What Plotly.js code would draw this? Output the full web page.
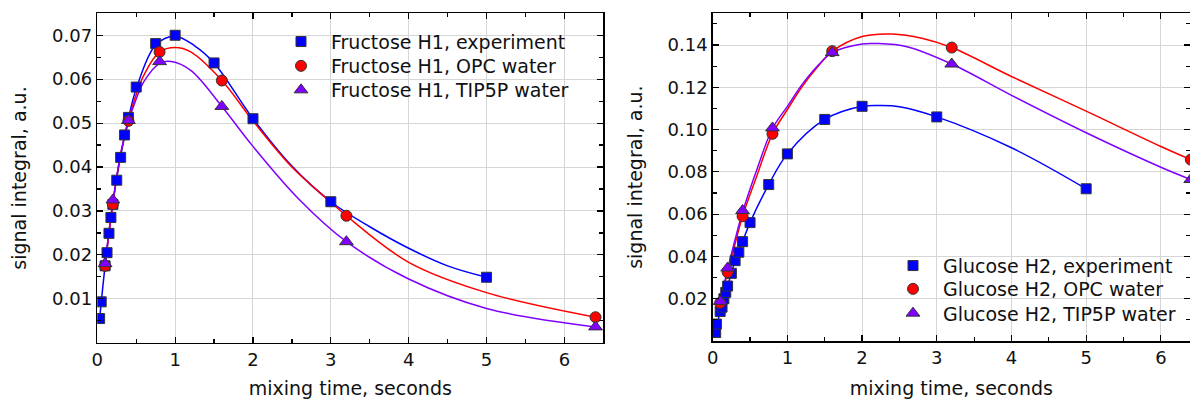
<!DOCTYPE html>
<html>
<head>
<meta charset="utf-8">
<script src="https://cdn.plot.ly/plotly-3.0.1.min.js"></script>
<style>html,body{margin:0;padding:0;background:#fff;} #plot{width:1190px;height:399px;}</style>
</head>
<body>
<div id="plot"></div>
<script>
// ---------- data: Fructose H1 (left panel) ----------
const fruExpX = [0.03, 0.05, 0.1, 0.125, 0.15, 0.175, 0.2, 0.25, 0.3, 0.35, 0.4, 0.5, 0.75, 1.0, 1.5, 2.0, 3.0, 5.0];
const fruExpY = [0.0055, 0.0093, 0.0175, 0.0205, 0.0249, 0.0285, 0.0315, 0.037, 0.0422, 0.0473, 0.0513, 0.0582, 0.0681, 0.0700, 0.0637, 0.0510, 0.0321, 0.0149];
const simX = [0.1, 0.2, 0.4, 0.8, 1.6, 3.2, 6.4];
const fruOpcY = [0.0175, 0.0315, 0.0505, 0.0662, 0.0597, 0.0289, 0.0058];
const fruTipY = [0.018, 0.0325, 0.0506, 0.064, 0.0538, 0.023, 0.0036];

// fitted / simulated curves
const fruExpCurveX = [0.03, 0.1, 0.2, 0.3, 0.4, 0.5, 0.75, 1.0, 1.25, 1.5, 2.0, 2.5, 3.0, 3.5, 4.0, 4.5, 5.0];
const fruExpCurveY = [0.0055, 0.0175, 0.032, 0.0425, 0.051, 0.0578, 0.0678, 0.0698, 0.0676, 0.0637, 0.051, 0.0402, 0.0321, 0.0264, 0.0215, 0.0175, 0.0149];
const fruOpcCurveX = [0.1, 0.2, 0.3, 0.4, 0.5, 0.6, 0.8, 1.0, 1.2, 1.6, 2.0, 2.5, 3.0, 3.2, 4.0, 5.0, 6.4];
const fruOpcCurveY = [0.0175, 0.0315, 0.043, 0.0505, 0.0565, 0.061, 0.0662, 0.0672, 0.0662, 0.0597, 0.0505, 0.040, 0.032, 0.0289, 0.0183, 0.0114, 0.0058];
const fruTipCurveX = [0.1, 0.2, 0.3, 0.4, 0.5, 0.6, 0.8, 0.95, 1.2, 1.6, 2.0, 2.6, 3.2, 4.0, 5.0, 6.4];
const fruTipCurveY = [0.018, 0.032, 0.043, 0.0503, 0.0555, 0.0595, 0.0636, 0.064, 0.062, 0.0538, 0.0447, 0.0325, 0.023, 0.0145, 0.0078, 0.0036];

// ---------- data: Glucose H2 (right panel) ----------
const glcExpX = [0.04, 0.05, 0.1, 0.125, 0.15, 0.175, 0.2, 0.25, 0.3, 0.35, 0.4, 0.5, 0.75, 1.0, 1.5, 2.0, 3.0, 5.0];
const glcExpY = [0.004, 0.008, 0.014, 0.016, 0.020, 0.023, 0.026, 0.032, 0.038, 0.042, 0.047, 0.056, 0.074, 0.0885, 0.1048, 0.111, 0.106, 0.072];
const glcOpcY = [0.018, 0.0325, 0.059, 0.098, 0.1371, 0.1388, 0.0858];
const glcTipY = [0.0187, 0.0345, 0.0617, 0.1008, 0.1364, 0.1310, 0.0764];

const glcExpCurveX = [0.04, 0.1, 0.2, 0.3, 0.4, 0.5, 0.75, 1.0, 1.5, 2.0, 2.25, 2.5, 3.0, 4.0, 5.0];
const glcExpCurveY = [0.004, 0.014, 0.026, 0.038, 0.047, 0.056, 0.074, 0.0885, 0.1048, 0.111, 0.1114, 0.1108, 0.106, 0.0914, 0.072];
const glcOpcCurveX = [0.1, 0.2, 0.3, 0.4, 0.6, 0.8, 1.0, 1.2, 1.4, 1.6, 2.0, 2.4, 2.8, 3.2, 4.0, 5.0, 6.0, 6.4];
const glcOpcCurveY = [0.018, 0.0325, 0.046, 0.059, 0.079, 0.098, 0.1095, 0.1205, 0.1295, 0.137, 0.144, 0.1452, 0.1432, 0.1388, 0.1251, 0.1087, 0.092, 0.0858];
const glcTipCurveX = [0.1, 0.2, 0.3, 0.4, 0.6, 0.8, 1.0, 1.2, 1.4, 1.6, 2.0, 2.2, 2.6, 3.2, 4.0, 5.0, 6.0, 6.4];
const glcTipCurveY = [0.0187, 0.034, 0.048, 0.061, 0.082, 0.1005, 0.111, 0.1215, 0.130, 0.1364, 0.1405, 0.1407, 0.1392, 0.131, 0.1162, 0.0985, 0.0822, 0.0764];

// ---------- labels ----------
const fruNames = ["Fructose H1, experiment", "Fructose H1, OPC water", "Fructose H1, TIP5P water"];
const glcNames = ["Glucose H2, experiment", "Glucose H2, OPC water", "Glucose H2, TIP5P water"];
const xTitle = "mixing time, seconds";
const yTitle = "signal integral, a.u.";
const xTickVals = [0, 1, 2, 3, 4, 5, 6];
const xTickText = ["0", "1", "2", "3", "4", "5", "6"];
const yLeftTickVals = [0.01, 0.02, 0.03, 0.04, 0.05, 0.06, 0.07];
const yLeftTickText = ["0.01", "0.02", "0.03", "0.04", "0.05", "0.06", "0.07"];
const yRightTickVals = [0.02, 0.04, 0.06, 0.08, 0.10, 0.12, 0.14];
const yRightTickText = ["0.02", "0.04", "0.06", "0.08", "0.10", "0.12", "0.14"];

// ---------- styles ----------
const BLUE = "#0000ff", RED = "#ff0000", PURPLE = "#8000ff";
const FONT = "DejaVu Sans, Arial, sans-serif";
const mLine = {color: "#333", width: 1};

function curve(x, y, color, xa, ya) {
  return {x, y, xaxis: xa, yaxis: ya, type: "scatter", mode: "lines",
    line: {color, width: 1.5, shape: "spline", smoothing: 1}, showlegend: false, hoverinfo: "skip"};
}
function pts(x, y, color, symbol, size, name, xa, ya, legend) {
  return {x, y, xaxis: xa, yaxis: ya, type: "scatter", mode: "markers", name,
    legend: legend,
    marker: {color, symbol, size, line: mLine}};
}

const data = [
  curve(fruExpCurveX, fruExpCurveY, BLUE, "x", "y"),
  curve(fruOpcCurveX, fruOpcCurveY, RED, "x", "y"),
  curve(fruTipCurveX, fruTipCurveY, PURPLE, "x", "y"),
  pts(fruExpX, fruExpY, BLUE, "square", 10, fruNames[0], "x", "y", "legend"),
  pts(simX, fruOpcY, RED, "circle", 11, fruNames[1], "x", "y", "legend2"),
  pts(simX, fruTipY, PURPLE, "triangle-up", 12, fruNames[2], "x", "y", "legend3"),
  curve(glcExpCurveX, glcExpCurveY, BLUE, "x2", "y2"),
  curve(glcOpcCurveX, glcOpcCurveY, RED, "x2", "y2"),
  curve(glcTipCurveX, glcTipCurveY, PURPLE, "x2", "y2"),
  pts(glcExpX, glcExpY, BLUE, "square", 10, glcNames[0], "x2", "y2", "legend4"),
  pts(simX, glcOpcY, RED, "circle", 11, glcNames[1], "x2", "y2", "legend5"),
  pts(simX, glcTipY, PURPLE, "triangle-up", 12, glcNames[2], "x2", "y2", "legend6")
];

const W = 1190, H = 399;
function axBase() {
  return {
    showline: true, linecolor: "#000", linewidth: 1.5, mirror: "allticks",
    ticks: "inside", ticklen: 6, tickwidth: 1.2, tickcolor: "#000",
    showgrid: true, gridcolor: "#d6d6d6", gridwidth: 1, zeroline: false,
    tickfont: {family: FONT, size: 18, color: "#111"},
    fixedrange: true
  };
}
const xL = Object.assign(axBase(), {
  domain: [97.3 / W, 603.3 / W], range: [0, 6.5], anchor: "y",
  tickmode: "array", tickvals: xTickVals, ticktext: xTickText,
  minor: {dtick: 0.5, ticks: "inside", ticklen: 4, tickcolor: "#000", showgrid: false},
  title: {text: xTitle, font: {family: FONT, size: 19, color: "#111"}, standoff: 14}
});
const yL = Object.assign(axBase(), {
  domain: [1 - 342.7 / H, 1 - 13.3 / H], range: [0, 0.075], anchor: "x",
  tickmode: "array", tickvals: yLeftTickVals, ticktext: yLeftTickText,
  minor: {dtick: 0.005, ticks: "inside", ticklen: 4, tickcolor: "#000", showgrid: false},
  title: {text: yTitle, font: {family: FONT, size: 19, color: "#111"}, standoff: 20}
});
const xR = Object.assign(axBase(), {
  domain: [712.7 / W, 1], range: [0, 6.39], anchor: "y2",
  tickmode: "array", tickvals: xTickVals, ticktext: xTickText,
  minor: {dtick: 0.5, ticks: "inside", ticklen: 4, tickcolor: "#000", showgrid: false},
  title: {text: xTitle, font: {family: FONT, size: 19, color: "#111"}, standoff: 14}
});
const yR = Object.assign(axBase(), {
  domain: [1 - 341 / H, 1 - 13.3 / H], range: [0, 0.155], anchor: "x2",
  tickmode: "array", tickvals: yRightTickVals, ticktext: yRightTickText,
  minor: {dtick: 0.01, ticks: "inside", ticklen: 4, tickcolor: "#000", showgrid: false},
  title: {text: yTitle, font: {family: FONT, size: 19, color: "#111"}, standoff: 20}
});

const legFont = {family: FONT, size: 19, color: "#111"};
function leg(px, top) {
  return {x: px / W, y: 1 - top / H, xanchor: "left", yanchor: "top",
    bgcolor: "rgba(0,0,0,0)", font: legFont, itemwidth: 50};
}
const layout = {
  width: W, height: H,
  margin: {l: 0, r: 0, t: 0, b: 0},
  paper_bgcolor: "#fff", plot_bgcolor: "#fff",
  showlegend: true,
  xaxis: xL, yaxis: yL, xaxis2: xR, yaxis2: yR,
  legend: leg(271, 22.7),
  legend2: leg(271, 47),
  legend3: leg(271, 71),
  legend4: leg(883, 246.7),
  legend5: leg(883, 270),
  legend6: leg(883, 294.3)
};

Plotly.newPlot("plot", data, layout, {displayModeBar: false, staticPlot: true});
</script>
</body>
</html>
